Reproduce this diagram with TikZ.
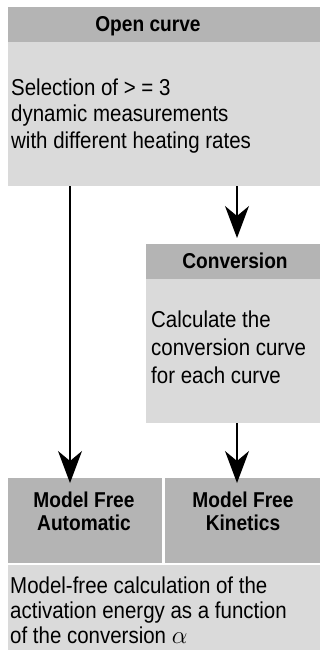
\documentclass[tikz,border=0pt]{standalone}
\usepackage{fontspec}
\setmainfont{Liberation Sans}[FakeStretch=0.89]
\usetikzlibrary{arrows.meta}
\definecolor{hdr}{RGB}{180,180,180}
\definecolor{bodyc}{RGB}{218,218,218}
\begin{document}
\begin{tikzpicture}[x=1pt,y=-1pt,
  darkbox/.style={fill=hdr, draw=none, inner sep=0pt, anchor=north west},
  lightbox/.style={fill=bodyc, draw=none, inner sep=0pt, anchor=north west},
  titletext/.style={font=\bfseries\fontsize{21.5}{23}\selectfont, align=center, inner sep=0pt, anchor=base},
  bodytext/.style={font=\fontsize{23}{26.5}\selectfont, align=left, inner sep=0pt, anchor=base west},
  arr/.style={line width=1.3pt, -{Stealth[length=32pt,width=24pt,inset=10pt]}}]
\useasboundingbox (0,0) rectangle (320,650);
% Open curve
\node[darkbox, minimum width=312pt, minimum height=35pt] (ochead) at (8,7) {};
\node[titletext] (octitle) at (148,32) {Open curve};
\node[lightbox, minimum width=312pt, minimum height=144pt] (ocbody) at (8,42) {};
\node[bodytext] (octext) at (11,148)
  {Selection of > = 3\\dynamic measurements\\with different heating rates};
% Conversion
\node[darkbox, minimum width=174pt, minimum height=35pt] (cvhead) at (146,244) {};
\node[titletext] (cvtitle) at (235,268) {Conversion};
\node[lightbox, minimum width=174pt, minimum height=144pt] (cvbody) at (146,279) {};
\node[bodytext, font=\fontsize{23}{28}\selectfont] (cvtext) at (151,383)
  {Calculate the\\conversion curve\\for each curve};
% Model free boxes
\node[darkbox, minimum width=154pt, minimum height=85pt] (mfa) at (8,478) {};
\node[titletext] (mfatext) at (84,530) {Model Free\\Automatic};
\node[darkbox, minimum width=155pt, minimum height=85pt] (mfk) at (165,478) {};
\node[titletext] (mfktext) at (243,530) {Model Free\\Kinetics};
% Result box
\node[lightbox, minimum width=312pt, minimum height=85pt] (res) at (8,565) {};
\node[bodytext, font=\fontsize{23}{25}\selectfont] (restext) at (10,643)
  {Model-free calculation of the\\activation energy as a function\\of the conversion $\alpha$};
% arrows
\coordinate (xl) at (70,0);
\coordinate (xr) at (237,0);
\draw[arr] (ocbody.south -| xl) -- ([yshift=-5pt]mfa.north -| xl);
\draw[arr] (ocbody.south -| xr) -- ([yshift=6pt]cvhead.north -| xr);
\draw[arr] (cvbody.south -| xr) -- ([yshift=-5pt]mfk.north -| xr);
\end{tikzpicture}
\end{document}
